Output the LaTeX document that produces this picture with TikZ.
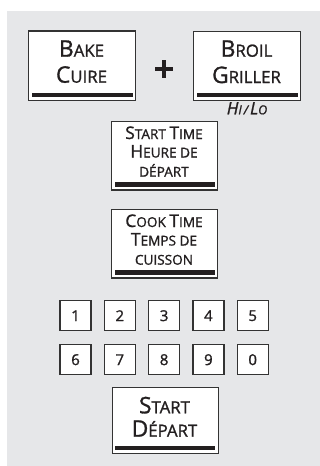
\documentclass[tikz,border=0pt]{standalone}
\usepackage{fontspec}
\setmainfont{Open Sans}[FakeBold=1.2]
\definecolor{bg}{HTML}{E6E7E9}
\definecolor{edgec}{HTML}{333333}
\definecolor{barc}{HTML}{231F20}
\definecolor{txt}{HTML}{231F20}
\newcommand\capA{\fontsize{22.8}{22.8}\selectfont}
\newcommand\smA{\fontsize{16.8}{16.8}\selectfont}
\newcommand\capB{\fontsize{17.4}{17.4}\selectfont}
\newcommand\smB{\fontsize{13.6}{13.6}\selectfont}
\newcommand\capC{\fontsize{17}{17}\selectfont}
\newcommand\smC{\fontsize{12.4}{12.4}\selectfont}
\tikzset{
  btn/.style={draw=edgec, line width=1.4pt, fill=white, rectangle, inner sep=0pt, anchor=north west, minimum width=#1},
  key/.style={draw=edgec, line width=1.4pt, fill=white, rectangle, inner sep=0pt, minimum width=31pt, minimum height=30pt, text=txt, font=\fontsize{15}{15}\selectfont},
  lbl/.style={anchor=base, inner sep=0pt, text=txt},
  barfill/.style={fill=barc}
}
\begin{document}
\begin{tikzpicture}[x=1pt,y=-1pt]
\useasboundingbox (0,0) rectangle (320,466);
\fill[bg] (7,11) rectangle (320,466);
% big buttons
\node[btn=107pt, minimum height=69.7pt] (bake) at (28,30.3) {};
\node[btn=107pt, minimum height=69pt] (broil) at (193,30.5) {};
\node[btn=106pt, minimum height=68.5pt] (stime) at (111,120.7) {};
\node[btn=106pt, minimum height=68.5pt] (ctime) at (111,208.7) {};
\node[btn=106pt, minimum height=66pt] (start) at (111.5,387) {};
\foreach \b in {bake,broil,stime,ctime,start}{
  \fill[barfill] ([xshift=3.8pt,yshift=4pt]\b.south west) rectangle ([xshift=-3.8pt,yshift=8.2pt]\b.south east);
}
% labels
\node[lbl] (bake1) at (81.5,56.7) {\capA B\smA AKE};
\node[lbl] (bake2) at (81.5,82.7) {\capA C\smA UIRE};
\node[lbl] (broil1) at (246.5,56.7) {\capA B\smA ROIL};
\node[lbl] (broil2) at (246.5,83) {\capA G\smA RILLER};
\node[lbl] (hilo) at (247,114.3) {\itshape\capC H\smC I\kern2pt/\kern2pt\capC L\smC O};
\coordinate (plus) at (164,68.7);
\draw[barc, line width=3.8pt] ([xshift=-9pt]plus) -- ([xshift=9pt]plus)
  ([yshift=-9pt]plus) -- ([yshift=9pt]plus);
\node[lbl] (st1) at (164,139) {\capB S\smB TART \capB T\smB IME};
\node[lbl] (st2) at (164,157.5) {\capB H\smB EURE DE};
\node[lbl] (st3) at (164,176.7) {\smB DÉPART};
\node[lbl] (ct1) at (164,227) {\capB C\smB OOK \capB T\smB IME};
\node[lbl] (ct2) at (164,245.5) {\capB T\smB EMPS DE};
\node[lbl] (ct3) at (164,264.7) {\smB CUISSON};
\node[lbl] (sd1) at (164.5,413.3) {\capA S\smA TART};
\node[lbl] (sd2) at (164.5,436.7) {\capA D\smA ÉPART};
% keys
\foreach \d [count=\i from 0] in {1,2,3,4,5}{
  \node[key] (k\d) at (75.5+44.3*\i,315.7) {\d};
}
\foreach \d [count=\i from 0] in {6,7,8,9,0}{
  \node[key] (k\d) at (75.5+44.3*\i,359.7) {\d};
}
\end{tikzpicture}
\end{document}
